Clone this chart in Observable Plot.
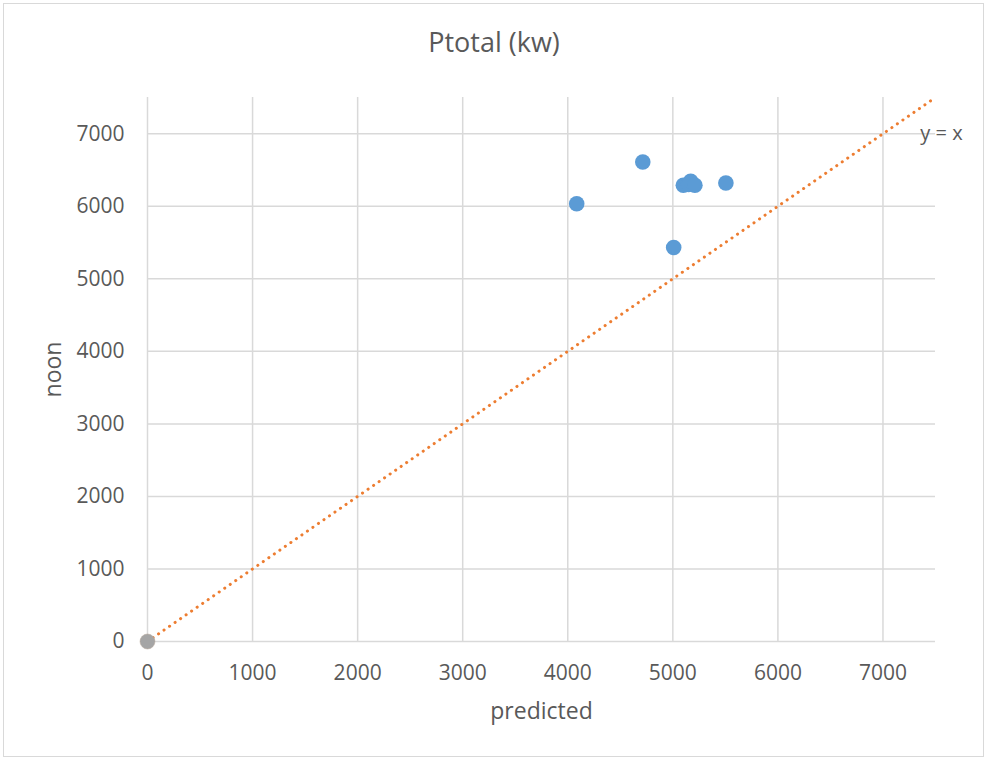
<!DOCTYPE html>
<html>
<head>
<meta charset="utf-8">
<script src="https://cdn.jsdelivr.net/npm/d3@7"></script>
<script src="https://cdn.jsdelivr.net/npm/@observablehq/plot@0.6"></script>
<style>
  html, body { margin: 0; padding: 0; background: #fff; }
  #wrap { position: relative; width: 988px; height: 761px; font-family: "Open Sans", sans-serif; }
  #border { position: absolute; left: 3px; top: 3px; width: 981px; height: 754px; border: 1px solid #d9d9d9; box-sizing: border-box; pointer-events: none; }
  #title { position: absolute; left: 0; top: 24px; width: 988px; text-align: center; font-size: 27px; color: #595959; line-height: 36px; }
  #chart { position: absolute; left: 0; top: 0; }
</style>
</head>
<body>
<div id="wrap">
  <div id="chart"></div>
  <div id="border"></div>
  <div id="title">Ptotal (kw)</div>
</div>
<script>
// Series: noon (y) vs predicted (x)
const predicted = [4085, 4714, 5008, 5100, 5150, 5170, 5210, 5505];
const noon      = [6035, 6610, 5433, 6290, 6300, 6345, 6290, 6322];
// Second series (grey) at origin
const zeroX = [0];
const zeroY = [0];
// Reference line y = x
const refX = [0, 7500];
const refY = [0, 7500];
const refLabel = ["y = x"];
const xTicks = [0, 1000, 2000, 3000, 4000, 5000, 6000, 7000];
const yTicks = [0, 1000, 2000, 3000, 4000, 5000, 6000, 7000];

const pts = predicted.map((x, i) => ({x, y: noon[i]}));
const zeros = zeroX.map((x, i) => ({x, y: zeroY[i]}));
const ref = refX.map((x, i) => ({x, y: refY[i]}));

const textColor = "#595959";
const gridColor = "#d9d9d9";
const fmt = d3.format("d");

const chart = Plot.plot({
  width: 988,
  height: 761,
  marginLeft: 147,
  marginRight: 53,
  marginTop: 97,
  marginBottom: 120,
  style: { fontFamily: "Open Sans, sans-serif", fontSize: "21px", color: textColor, background: "transparent" },
  x: { domain: [0, 7500] },
  y: { domain: [0, 7500] },
  marks: [
    Plot.gridX(xTicks, { stroke: gridColor, strokeOpacity: 1, strokeWidth: 1.5 }),
    Plot.gridY(yTicks, { stroke: gridColor, strokeOpacity: 1, strokeWidth: 1.5 }),
    Plot.axisX(xTicks, { tickSize: 0, tickPadding: 24, tickFormat: fmt, label: null, fill: textColor, fontSize: 21 }),
    Plot.axisY(yTicks, { tickSize: 0, tickPadding: 23, tickFormat: fmt, label: null, fill: textColor, fontSize: 21 }),
    Plot.text(["predicted"], { frameAnchor: "bottom", lineAnchor: "middle", textAnchor: "middle", dy: 70, text: d => d, fill: textColor, fontSize: 23 }),
    Plot.text(["noon"], { frameAnchor: "left", lineAnchor: "middle", textAnchor: "middle", dx: -94, rotate: -90, text: d => d, fill: textColor, fontSize: 23 }),
    Plot.line(ref, { x: "x", y: "y", stroke: "#ED7D31", strokeWidth: 3, strokeDasharray: "0.1,6.6", strokeLinecap: "round" }),
    Plot.text(refLabel, { x: () => refX[1], y: () => yTicks[7], text: d => d, dx: 6, fill: textColor, fontSize: 20 }),
    Plot.dot(zeros, { x: "x", y: "y", r: 7.5, fill: "#A5A5A5", stroke: "#b8a89a", strokeWidth: 0.5 }),
    Plot.dot(pts, { x: "x", y: "y", r: 7.8, fill: "#5B9BD5", stroke: "none" })
  ]
});
document.getElementById("chart").appendChild(chart);
</script>
</body>
</html>
